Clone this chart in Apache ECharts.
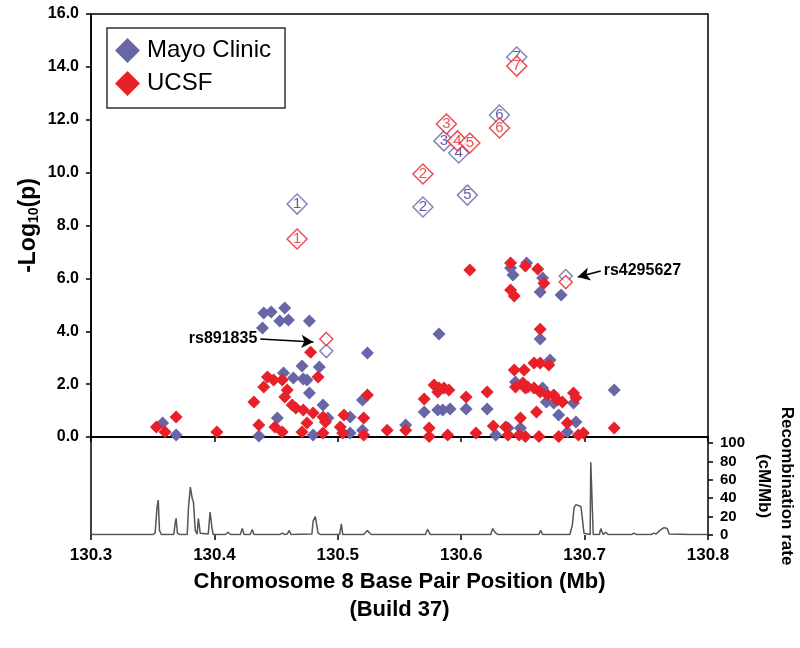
<!DOCTYPE html>
<html><head><meta charset="utf-8">
<script src="https://cdn.jsdelivr.net/npm/echarts@6/dist/echarts.min.js"></script>
<style>html,body{margin:0;padding:0;background:#fff}#c{width:800px;height:648px}</style>
</head><body><div id="c"></div>
<script>
// ---- Data ----
const xTicks = [130.3, 130.4, 130.5, 130.6, 130.7, 130.8];
const yTicks = [0, 2, 4, 6, 8, 10, 12, 14, 16];
const recTicks = [0, 20, 40, 60, 80, 100];

// Mayo Clinic, filled
const mayoPos = [130.358,130.369,130.436,130.440,130.446,130.457,130.453,130.460,130.439,130.477,
  130.524,130.471,130.485,130.456,130.464,130.472,130.475,130.477,130.488,130.492,
  130.451,130.480,130.510,130.520,130.510,130.520,130.555,130.582,130.570,130.581,
  130.585,130.591,130.604,130.621,130.628,130.638,130.648,130.644,130.640,130.642,
  130.653,130.666,130.664,130.681,130.664,130.672,130.666,130.669,130.675,130.691,
  130.679,130.693,130.686,130.724];
const mayoLogP = [0.53,0.08,0.04,4.69,4.73,4.88,4.39,4.43,4.12,4.39,
  3.18,2.69,2.65,2.42,2.23,2.19,2.16,1.66,1.21,0.72,
  0.72,0.08,0.76,1.40,0.15,0.26,0.45,3.90,0.95,1.02,
  1.02,1.06,1.06,1.06,0.08,0.34,0.34,2.08,6.39,6.13,
  6.58,6.01,5.48,5.37,3.71,2.91,1.85,1.32,1.29,1.29,
  0.83,0.57,0.19,1.78];

// UCSF, filled
const ucsfPos = [130.353,130.360,130.369,130.402,130.432,130.436,130.440,130.443,130.448,130.455,
  130.459,130.457,130.463,130.466,130.472,130.480,130.488,130.490,130.449,130.455,
  130.475,130.471,130.488,130.478,130.484,130.505,130.502,130.521,130.524,130.504,
  130.521,130.540,130.555,
  130.607,130.578,130.582,130.586,130.590,130.581,130.570,130.604,130.621,130.574,
  130.574,130.589,130.612,130.626,130.636,130.638,130.647,130.648,130.643,130.651,
  130.644,130.652,
  130.640,130.652,130.662,130.667,130.640,130.643,130.664,130.659,130.664,130.671,
  130.650,130.654,130.659,130.664,130.670,130.675,130.678,130.682,130.691,130.693,
  130.661,130.686,130.695,130.699,130.724,130.652,130.663,130.679];
const ucsfLogP = [0.38,0.19,0.76,0.19,1.32,0.45,1.89,2.27,2.16,2.16,
  1.78,1.51,1.21,1.10,1.02,0.91,0.76,0.57,0.38,0.19,
  0.53,0.19,0.15,3.21,2.27,0.83,0.38,0.72,1.59,0.15,
  0.08,0.26,0.26,
  6.32,1.97,1.85,1.85,1.78,1.70,1.44,1.51,1.70,0.34,
  0.02,0.08,0.15,0.42,0.38,0.08,0.08,0.72,2.53,2.53,
  1.89,1.85,
  6.58,6.47,6.35,5.82,5.56,5.33,4.08,2.80,2.80,2.72,
  2.04,1.89,1.85,1.70,1.59,1.59,1.40,1.32,1.66,1.48,
  0.95,0.53,0.08,0.15,0.34,0.02,0.02,0.02];

// Numbered top SNPs (hollow)
const snpNumbers = ['1','2','3','4','5','6','7'];
const mayoTopPos = [130.467,130.569,130.586,130.598,130.605,130.631,130.645];
const mayoTopLogP = [8.81,8.70,11.20,10.74,9.15,12.18,14.37];
const ucsfTopPos = [130.467,130.569,130.588,130.597,130.607,130.631,130.645];
const ucsfTopLogP = [7.49,9.95,11.84,11.20,11.12,11.69,14.03];

// Highlighted SNPs (hollow, small)
const rsNames = ['rs891835','rs4295627'];
const rsPos = [130.4907, 130.6847];
const mayoRsLogP = [3.25, 6.09];
const ucsfRsLogP = [3.71, 5.86];

// Recombination rate (cM/Mb)
const recPos = [130.300,130.350,130.352,130.3535,130.3545,130.3555,130.357,130.367,130.3685,130.369,130.370,130.372,
  130.378,130.379,130.3805,130.382,130.383,130.3845,130.386,130.387,130.3877,130.3885,130.390,130.395,130.3965,130.398,130.399,
  130.409,130.411,130.413,130.421,130.4226,130.424,130.429,130.4307,130.432,130.453,130.455,130.457,130.459,130.4607,130.462,
  130.479,130.480,130.4818,130.483,130.484,130.486,130.5015,130.5029,130.504,130.521,130.524,130.527,130.543,130.5443,130.546,
  130.571,130.5727,130.575,130.597,130.598,130.599,130.624,130.6255,130.628,130.630,130.663,130.6644,130.666,
  130.688,130.690,130.6915,130.693,130.697,130.698,130.6995,130.701,130.7045,130.705,130.7065,130.707,
  130.712,130.7131,130.715,130.7172,130.719,130.738,130.740,130.742,130.754,130.7562,130.758,130.761,130.7643,130.767,130.7685,
  130.785,130.7862,130.788,130.800];
const recRate = [0.5,0.5,2,30,38,5,0.5,0.5,15,18,2,0.5,
  0.5,30,52,40,36,5,1,18,20,2,0.5,1,25,8,0.5,
  0.5,3,0.5,0.5,7,0.5,0.5,6,0.5,0.5,2,0.5,1,5,0.5,
  1,15,20,18,2,0.5,0.5,12,0.5,0.5,5,0.5,0.5,1.5,0.5,
  0.5,6,0.5,0.5,2,0.5,0.5,7,2,0.5,0.5,5,0.5,
  0.5,10,30,33,31,20,2,0.5,0.5,79,79,0.5,
  0.5,7,0.5,3,0.5,0.5,2,0.5,0.5,2,1,5,8,7,1,
  0.5,2,0.5,0.5];

// ---- Chart ----
const FONT = '"Liberation Sans", Arial, Helvetica, sans-serif';
const MAYO = '#6767a8';
const UCSF = '#e8202a';
const zip = (a, b) => a.map((v, i) => [v, b[i]]);

const chart = echarts.init(document.getElementById('c'), null, {renderer: 'canvas'});
chart.setOption({
  animation: false,
  backgroundColor: '#fff',
  legend: {
    data: [{name: 'Mayo Clinic'}, {name: 'UCSF'}],
    orient: 'vertical', left: 107, top: 28,
    padding: [10, 14, 12, 8],
    itemWidth: 25, itemHeight: 25, itemGap: 8,
    icon: 'diamond',
    borderColor: '#333', borderWidth: 1.5,
    textStyle: {fontFamily: FONT, fontSize: 24, color: '#000', padding: [0, 0, 0, 2]}
  },
  grid: [
    {left: 91, right: 92, top: 14, height: 423, outerBoundsMode: 'none', containLabel: false,
     show: true, borderColor: '#000', borderWidth: 1.5, backgroundColor: 'transparent'},
    {left: 91, right: 92, top: 437, height: 98, outerBoundsMode: 'none', containLabel: false}
  ],
  xAxis: [
    {type: 'value', gridIndex: 0, min: 130.3, max: 130.8, interval: 0.1,
     axisLine: {show: true, lineStyle: {color: '#000', width: 2}},
     axisTick: {show: true, inside: false, length: 5, lineStyle: {color: '#000', width: 1.5}},
     axisLabel: {show: false}, splitLine: {show: false}},
    {type: 'value', gridIndex: 1, min: 130.3, max: 130.8, interval: 0.1,
     axisLine: {show: false},
     axisTick: {show: true, inside: false, length: 5, lineStyle: {color: '#000', width: 1.5}},
     axisLabel: {show: true, margin: 12, fontFamily: FONT, fontWeight: 'bold', fontSize: 17, color: '#000',
       formatter: v => v.toFixed(1)},
     splitLine: {show: false},
     name: 'Chromosome 8 Base Pair Position (Mb)\n(Build 37)',
     nameLocation: 'middle', nameGap: 33, nameMoveOverlap: false,
     nameTextStyle: {fontFamily: FONT, fontWeight: 'bold', fontSize: 22, color: '#000', lineHeight: 28}}
  ],
  yAxis: [
    {type: 'value', gridIndex: 0, min: 0, max: 16, interval: 2,
     axisLine: {show: true, lineStyle: {color: '#000', width: 1.5}},
     axisTick: {show: true, inside: false, length: 5, lineStyle: {color: '#000', width: 1.5}},
     axisLabel: {margin: 12, fontFamily: FONT, fontWeight: 'bold', fontSize: 16, color: '#000',
       formatter: v => v.toFixed(1)},
     splitLine: {show: false},
     name: '{a|-Log}{s|10}{a|(p)}', nameLocation: 'middle', nameRotate: 90, nameGap: 50, nameMoveOverlap: false,
     nameTextStyle: {rich: {
       a: {fontFamily: FONT, fontWeight: 'bold', fontSize: 23, color: '#000', lineHeight: 24},
       s: {fontFamily: FONT, fontWeight: 'bold', fontSize: 14, color: '#000', lineHeight: 6, verticalAlign: 'bottom'}
     }}},
    {type: 'value', gridIndex: 1, position: 'right', min: 0, max: 106.5,
     axisLine: {show: true, lineStyle: {color: '#000', width: 1.5}},
     axisTick: {show: true, inside: false, length: 5, customValues: recTicks, lineStyle: {color: '#000', width: 1.5}},
     axisLabel: {margin: 12, customValues: recTicks, fontFamily: FONT, fontWeight: 'bold', fontSize: 15, color: '#000'},
     splitLine: {show: false},
     name: 'Recombination rate\n(cM/Mb)', nameLocation: 'middle', nameRotate: -90, nameGap: 44, nameMoveOverlap: false,
     nameTextStyle: {fontFamily: FONT, fontWeight: 'bold', fontSize: 17, color: '#000', lineHeight: 23}},
    {type: 'value', gridIndex: 1, position: 'left', min: 0, max: 1,
     axisLine: {show: true, lineStyle: {color: '#000', width: 1.5}},
     axisTick: {show: false}, axisLabel: {show: false}, splitLine: {show: false}}
  ],
  series: [
    {name: 'Recombination', type: 'line', xAxisIndex: 1, yAxisIndex: 1, data: zip(recPos, recRate),
     showSymbol: false, symbol: 'none', lineStyle: {color: '#555', width: 1.5}, z: 2},
    {name: 'Mayo Clinic', type: 'scatter', xAxisIndex: 0, yAxisIndex: 0, data: zip(mayoPos, mayoLogP),
     symbol: 'diamond', symbolSize: 13, itemStyle: {color: MAYO, opacity: 1}, z: 3},
    {name: 'UCSF', type: 'scatter', xAxisIndex: 0, yAxisIndex: 0, data: zip(ucsfPos, ucsfLogP),
     symbol: 'diamond', symbolSize: 13, itemStyle: {color: UCSF, opacity: 1}, z: 4},
    {name: 'Mayo rs', type: 'scatter', data: zip(rsPos, mayoRsLogP), symbol: 'diamond', symbolSize: 13,
     itemStyle: {color: '#fff', borderColor: MAYO, borderWidth: 1.5}, z: 5,
     markLine: {silent: true, symbol: ['none', 'arrow'], symbolSize: [10, 12],
       lineStyle: {color: '#000', width: 1.5, type: 'solid'},
       label: {show: true, position: 'start', distance: 3, fontFamily: FONT, fontWeight: 'bold', fontSize: 16, color: '#000',
         formatter: p => p.name},
       data: [
         [{name: rsNames[0], coord: [130.4372, 3.71]}, {coord: [130.4802, 3.59]}],
         [{name: rsNames[1], coord: [130.7131, 6.28]}, {coord: [130.6945, 6.05]}]
       ]}},
    {name: 'UCSF rs', type: 'scatter', data: zip(rsPos, ucsfRsLogP), symbol: 'diamond', symbolSize: 13,
     itemStyle: {color: '#fff', borderColor: UCSF, borderWidth: 1.5}, z: 6},
    {name: 'Mayo top', type: 'scatter', data: zip(mayoTopPos, mayoTopLogP), symbol: 'diamond', symbolSize: 20,
     itemStyle: {color: '#fff', borderColor: MAYO, borderWidth: 1.5}, z: 7,
     label: {show: true, position: 'inside', formatter: p => snpNumbers[p.dataIndex],
       fontFamily: FONT, fontSize: 15, color: '#33338f'}},
    {name: 'UCSF top', type: 'scatter', data: zip(ucsfTopPos, ucsfTopLogP), symbol: 'diamond', symbolSize: 20,
     itemStyle: {color: '#fff', borderColor: UCSF, borderWidth: 1.5}, z: 8,
     label: {show: true, position: 'inside', formatter: p => snpNumbers[p.dataIndex],
       fontFamily: FONT, fontSize: 15, color: UCSF}}
  ]
});
</script></body></html>
